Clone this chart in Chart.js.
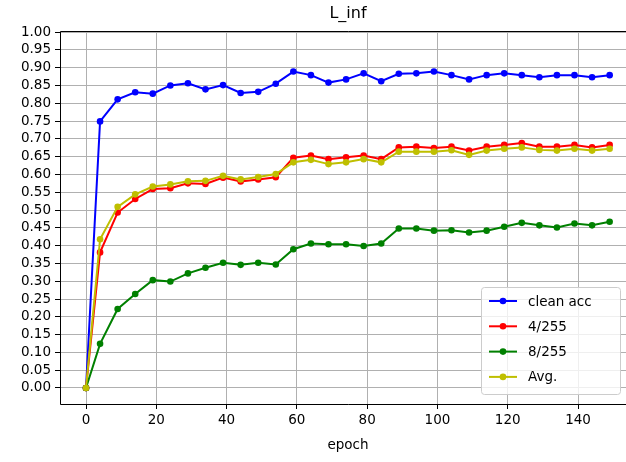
<!DOCTYPE html>
<html>
<head>
<meta charset="utf-8">
<script src="https://cdn.jsdelivr.net/npm/chart.js@4"></script>
<style>
  body { margin: 0; background: #fff; overflow: hidden; }
  #wrap { width: 626px; height: 462px; overflow: hidden; }
</style>
</head>
<body>
<div id="wrap"><canvas id="chart" width="640" height="462"></canvas></div>
<script>
// values
const epochs = [0, 4, 9, 14, 19, 24, 29, 34, 39, 44, 49, 54, 59, 64, 69, 74, 79, 84, 89, 94, 99, 104, 109, 114, 119, 124, 129, 134, 139, 144, 149];
const cleanAcc = [0, 0.749, 0.811, 0.831, 0.827, 0.850, 0.856, 0.839, 0.851, 0.829, 0.832, 0.855, 0.889, 0.879, 0.858, 0.867, 0.884, 0.862, 0.883, 0.884, 0.889, 0.879, 0.867, 0.879, 0.884, 0.879, 0.873, 0.879, 0.879, 0.873, 0.879];
const eps4 = [0, 0.381, 0.493, 0.531, 0.559, 0.561, 0.575, 0.573, 0.591, 0.580, 0.586, 0.592, 0.647, 0.653, 0.643, 0.648, 0.653, 0.643, 0.676, 0.678, 0.674, 0.678, 0.667, 0.678, 0.683, 0.688, 0.678, 0.678, 0.683, 0.676, 0.683];
const eps8 = [0, 0.124, 0.222, 0.264, 0.303, 0.299, 0.322, 0.338, 0.352, 0.346, 0.352, 0.347, 0.390, 0.406, 0.404, 0.404, 0.399, 0.406, 0.448, 0.448, 0.442, 0.443, 0.437, 0.442, 0.453, 0.464, 0.457, 0.451, 0.462, 0.457, 0.467];
const avg = [0, 0.418, 0.509, 0.544, 0.566, 0.572, 0.581, 0.582, 0.596, 0.586, 0.593, 0.601, 0.634, 0.641, 0.629, 0.634, 0.643, 0.634, 0.664, 0.664, 0.664, 0.668, 0.655, 0.667, 0.672, 0.676, 0.669, 0.667, 0.672, 0.667, 0.672];

const xTicks = [0, 20, 40, 60, 80, 100, 120, 140];
const yTicks = [0, 0.05, 0.1, 0.15, 0.2, 0.25, 0.3, 0.35, 0.4, 0.45, 0.5, 0.55, 0.6, 0.65, 0.7, 0.75, 0.8, 0.85, 0.9, 0.95, 1.0];

const FONT = 'DejaVu Sans';

function series(label, values, color, order) {
  return {
    label: label,
    data: epochs.map((e, i) => ({ x: e, y: values[i] })),
    borderColor: color,
    backgroundColor: color,
    borderWidth: 2,
    pointRadius: 3.3,
    pointBorderWidth: 0,
    pointBackgroundColor: color,
    tension: 0,
    order: order
  };
}

// spines (top, left, bottom) drawn above the lines like matplotlib
const spines = {
  id: 'spines',
  afterDatasetsDraw(chart) {
    const { ctx, chartArea: a } = chart;
    ctx.save();
    ctx.strokeStyle = '#000';
    ctx.lineWidth = 1;
    ctx.beginPath();
    ctx.moveTo(a.right, a.top + 0.5);
    ctx.lineTo(a.left + 0.5, a.top + 0.5);
    ctx.lineTo(a.left + 0.5, a.bottom + 0.5);
    ctx.lineTo(a.right, a.bottom + 0.5);
    ctx.stroke();
    ctx.restore();
  }
};

// legend inside the plot, lower right
const insetLegend = {
  id: 'insetLegend',
  afterDraw(chart) {
    const ctx = chart.ctx;
    const sets = chart.data.datasets;
    const bx = 481, by = 287, bw = 139, bh = 107;
    ctx.save();
    ctx.beginPath();
    ctx.roundRect(bx + 0.5, by + 0.5, bw, bh, 3);
    ctx.fillStyle = 'rgba(255,255,255,0.8)';
    ctx.fill();
    ctx.strokeStyle = '#cccccc';
    ctx.lineWidth = 1;
    ctx.stroke();
    ctx.font = '13.5px "' + FONT + '"';
    ctx.textBaseline = 'middle';
    sets.forEach((ds, i) => {
      const y = by + 14 + i * 25.3;
      ctx.strokeStyle = ds.borderColor;
      ctx.lineWidth = 2;
      ctx.beginPath();
      ctx.moveTo(489, y);
      ctx.lineTo(517, y);
      ctx.stroke();
      ctx.fillStyle = ds.borderColor;
      ctx.beginPath();
      ctx.arc(503, y, 3.3, 0, Math.PI * 2);
      ctx.fill();
      ctx.fillStyle = '#000';
      ctx.fillText(ds.label, 528, y + 1);
    });
    ctx.restore();
  }
};

new Chart(document.getElementById('chart'), {
  type: 'line',
  data: {
    datasets: [
      series('clean acc', cleanAcc, '#0000ff', 4),
      series('4/255', eps4, '#ff0000', 3),
      series('8/255', eps8, '#008000', 2),
      series('Avg.', avg, '#bfbf00', 1)
    ]
  },
  options: {
    responsive: false,
    animation: false,
    devicePixelRatio: 1,
    layout: { padding: 0 },
    plugins: {
      legend: { display: false },
      tooltip: { enabled: false },
      title: {
        display: true,
        text: 'L_inf',
        fullSize: false,
        color: '#000',
        font: { family: FONT, size: 16, weight: 'normal' },
        padding: { top: 4, bottom: 7.8 }
      }
    },
    scales: {
      x: {
        type: 'linear',
        min: -7.4,
        max: 156.5,
        afterBuildTicks: s => { s.ticks = xTicks.map(v => ({ value: v })); },
        afterFit: s => { s.height = 58; },
        grid: { color: '#b0b0b0', lineWidth: 1, tickColor: '#000', tickLength: 5 },
        border: { display: false },
        ticks: {
          color: '#000',
          padding: 3,
          maxRotation: 0,
          font: { family: FONT, size: 13.5 },
          callback: v => String(v)
        },
        title: {
          display: true,
          text: 'epoch',
          color: '#000',
          font: { family: FONT, size: 13.5 },
          padding: { top: 4, bottom: 8 }
        }
      },
      y: {
        min: -0.045,
        max: 1.003,
        afterBuildTicks: s => { s.ticks = yTicks.map(v => ({ value: v })); },
        afterFit: s => { s.width = 60; },
        grid: { color: '#b0b0b0', lineWidth: 1, tickColor: '#000', tickLength: 5 },
        border: { display: false },
        ticks: {
          color: '#000',
          padding: 4,
          autoSkip: false,
          font: { family: FONT, size: 13.5 },
          callback: v => v.toFixed(2)
        }
      }
    }
  },
  plugins: [spines, insetLegend]
});
</script>
</body>
</html>
